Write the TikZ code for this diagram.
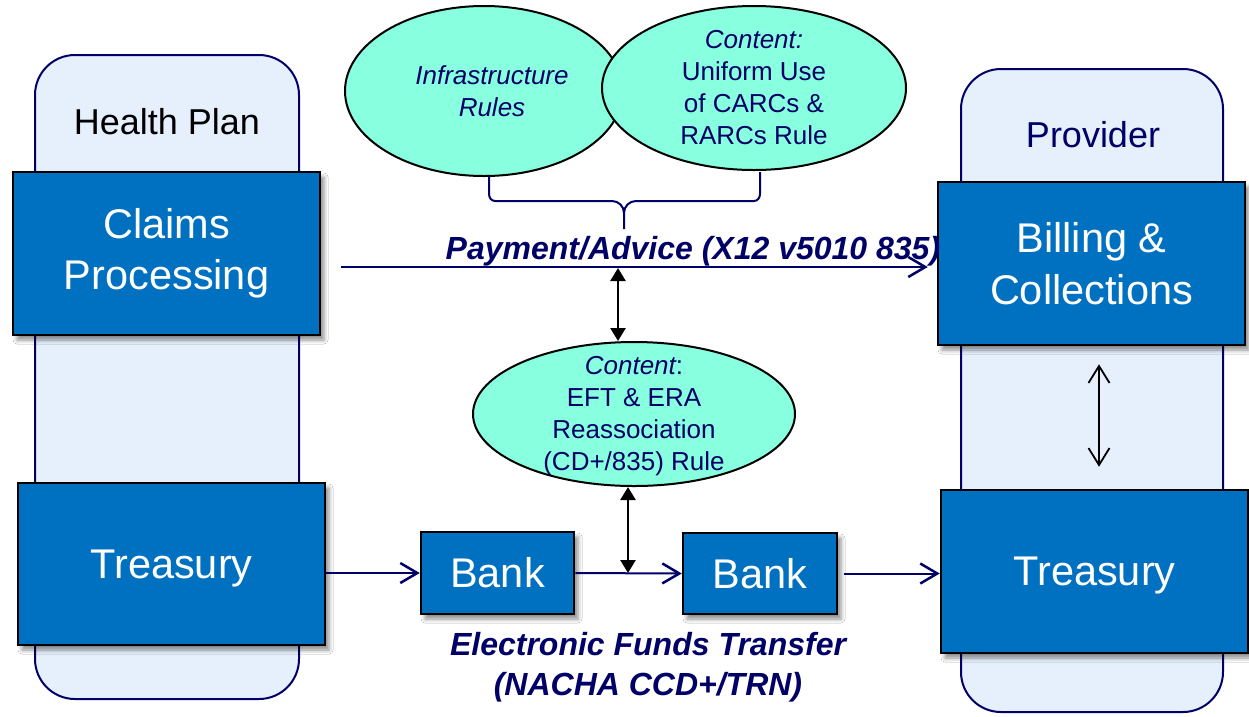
\documentclass[tikz,border=0pt]{standalone}
\usepackage{fontspec}
\setmainfont{Liberation Sans}
\usetikzlibrary{shapes.geometric, arrows.meta, shadows.blur}
\definecolor{navy}{RGB}{0,0,102}
\definecolor{boxblue}{RGB}{0,112,192}
\definecolor{lanefill}{RGB}{230,240,252}
\definecolor{mint}{RGB}{136,255,222}

\begin{document}
\begin{tikzpicture}[x=1pt, y=-1pt,
  lane/.style={draw=navy, line width=2pt, fill=lanefill, rounded corners=40pt, inner sep=0pt},
  lanetitle/.style={anchor=base, inner sep=0pt, font=\fontsize{36}{42}\selectfont},
  unit/.style={draw=black, line width=2.5pt, fill=boxblue, text=white, align=center,
    inner sep=0pt, font=\fontsize{41.5}{51.5}\selectfont,
    blur shadow={shadow xshift=4pt, shadow yshift=-5pt, shadow blur radius=4pt, shadow opacity=45}},
  rule/.style={ellipse, draw=black, line width=2pt, fill=mint, inner sep=0pt},
  ruletext/.style={text=navy, align=center, inner sep=0pt, font=\fontsize{26}{32}\selectfont},
  caption/.style={text=navy, align=center, inner sep=0pt, font=\bfseries\itshape\fontsize{32}{40}\selectfont},
  flow/.style={draw=navy, line width=2pt, -{Straight Barb[length=17pt, width=20pt, line width=2.5pt]}},
  link/.style={draw=black, line width=2.5pt, {Triangle[length=13pt, width=15pt]}-{Triangle[length=13pt, width=15pt]}},
  sync/.style={draw=black, line width=1.8pt, {Straight Barb[length=17pt, width=21pt]}-{Straight Barb[length=17pt, width=21pt]}},
  bracket/.style={draw=navy, line width=2pt}
]
\useasboundingbox (0,0) rectangle (1249,716);
\fill[white] (0,0) rectangle (1249,716);

% swim lanes
\node[lane, minimum width=264pt, minimum height=644pt] (hp) at (167,377) {};
\node[lane, minimum width=262pt, minimum height=643pt] (pv) at (1092,390.5) {};
\node[lanetitle, text=black] (hpt) at (167,134) {Health Plan};
\node[lanetitle, text=navy] (pvt) at (1093,147) {Provider};

% functional units
\node[unit, minimum width=307pt, minimum height=163pt] (cp) at (166.5,253.5) {Claims\\Processing};
\node[unit, minimum width=307pt, minimum height=162pt, text depth=0pt] (tl) at (171.5,564) {Treasury};
\node[unit, minimum width=307pt, minimum height=163pt] (bc) at (1091.5,263.5) {Billing \&\\Collections};
\node[unit, minimum width=307pt, minimum height=163pt, text depth=0pt] (tr) at (1094.5,571.5) {Treasury};
\node[unit, minimum width=153pt, minimum height=82pt] (b1) at (497.5,573) {Bank};
\node[unit, minimum width=154pt, minimum height=81pt] (b2) at (760,573.5) {Bank};

% operating rules
\node[rule, minimum width=278pt, minimum height=170pt] (e1) at (484,91) {};
\node[rule, minimum width=304pt, minimum height=164pt] (e2) at (754,88) {};
\node[rule, minimum width=322pt, minimum height=144pt] (e3) at (634,414) {};
\node[ruletext] (t1) at ([xshift=8pt]e1.center) {\itshape Infrastructure\\\itshape Rules};
\node[ruletext] (t2) at (e2) {\itshape Content:\\Uniform Use\\of CARCs \&\\RARCs Rule};
\node[ruletext] (t3) at ([yshift=-2pt]e3.center) {{\itshape Content}:\\EFT \& ERA\\Reassociation\\(CD+/835) Rule};

% bracket grouping the two upper rules
\draw[bracket] (489,176) -- (489,194) to[out=270,in=180] (495,201) -- (612,201)
  to[out=0,in=90] (624,213) -- (624,229);
\draw[bracket] (760,172) -- (760,194) to[out=270,in=0] (754,201) -- (636,201)
  to[out=180,in=90] (624,213);

% payment / advice transaction
\coordinate (payy) at (0,267);
\draw[flow, shorten <=20pt, shorten >=9pt] (cp.east |- payy) -- (bc.west |- payy);
\node[caption, anchor=base] (pay) at (693,259) {Payment/Advice (X12 v5010 835)};

% funds transfer
\draw[flow] (tl.east |- b1) -- (b1.west);
\draw[flow] (b1.east) -- (b2.west);
\draw[flow, shorten <=6pt] (b2.east) -- (tr.west |- b2);
\node[caption] (eft) at (648,667) {Electronic Funds Transfer\\(NACHA CCD+/TRN)};

% reassociation links
\coordinate (u1) at (618,268);
\draw[link] (u1) -- (e3.north -| u1);
\coordinate (u2) at (628,573);
\draw[link] (e3.south -| u2) -- (u2);

% provider internal link
\coordinate (cx) at (1099,0);
\draw[sync, shorten <=18pt, shorten >=22pt] (bc.south -| cx) -- (tr.north -| cx);
\end{tikzpicture}
\end{document}
